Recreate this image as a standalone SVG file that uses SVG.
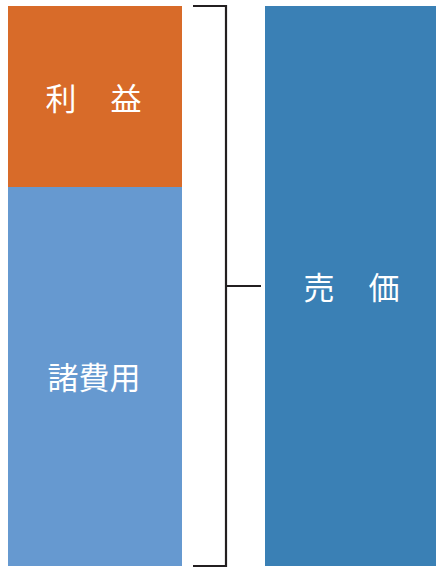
<svg xmlns="http://www.w3.org/2000/svg" width="438" height="567" viewBox="0 0 438 567">
<style>
.lbl{font-family:"Noto Sans CJK JP","Noto Sans CJK SC",sans-serif;font-size:31px;fill:#ffffff;text-anchor:middle;dominant-baseline:central}
.br{fill:none;stroke:#231f20;stroke-width:2.2}
</style>
<rect width="438" height="567" fill="#ffffff"/>
<g id="profit">
<rect x="8" y="6" width="174" height="181" fill="#d86b29"/>
<text class="lbl" y="96"><tspan x="61">利</tspan><tspan x="126">益</tspan></text>
</g>
<g id="expenses">
<rect x="8" y="187" width="174" height="379" fill="#6699d0"/>
<text class="lbl" x="94" y="375">諸費用</text>
</g>
<g id="price">
<rect x="265" y="6" width="171" height="560" fill="#3a80b5"/>
<text class="lbl" y="285"><tspan x="319">売</tspan><tspan x="384">価</tspan></text>
</g>
<g id="connectors">
<path class="br" d="M193 6 H226 V566 H193"/>
<path class="br" d="M226 286 H261"/>
</g>
</svg>
